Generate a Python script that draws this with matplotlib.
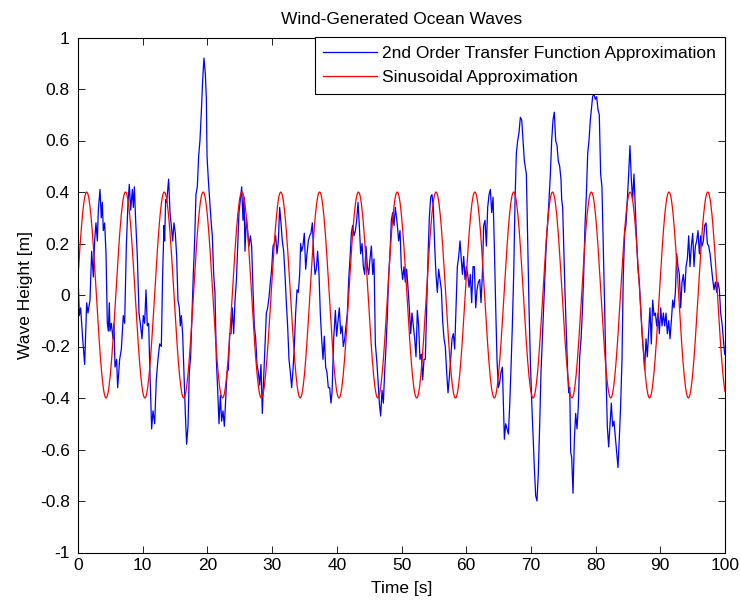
import numpy as np
import matplotlib
matplotlib.use("Agg")
import matplotlib.pyplot as plt

# ---- data ----
tf_time = [
    0.00, 0.20, 0.41, 0.72, 1.03, 1.34, 1.54, 1.85, 2.11, 2.37, 2.57, 2.78, 2.99, 3.14, 3.40, 3.60, 3.76, 3.91,
    4.12, 4.33, 4.53, 4.69, 4.84, 4.94, 5.15, 5.41, 5.56, 5.72, 5.97, 6.13, 6.44, 6.70, 7.00, 7.21, 7.47, 7.73,
    7.93, 8.14, 8.40, 8.55, 8.71, 8.91, 9.17, 9.43,
    9.68, 9.89, 10.09, 10.30, 10.51, 10.71, 10.92, 11.12, 11.38, 11.59, 11.85, 12.10, 12.36, 12.62, 12.88, 13.08,
    13.29, 13.39, 13.55, 13.70, 13.80, 14.01, 14.22, 14.42, 14.63, 14.83, 15.04, 15.25, 15.45, 15.66, 15.81,
    15.97, 16.17, 16.38, 16.59, 16.79, 17.00, 17.20, 17.41, 17.62, 17.82, 18.03, 18.23, 18.44, 18.65, 18.85,
    19.06, 19.26, 19.47, 19.68,
    19.84, 19.94, 20.14, 20.35, 20.56, 20.76, 20.97, 21.17, 21.38, 21.59, 21.79, 22.00, 22.20, 22.41, 22.62,
    22.82, 23.03, 23.24, 23.44, 23.65, 23.85, 24.06, 24.27, 24.47, 24.68, 24.88, 25.09, 25.30, 25.50, 25.66,
    25.81, 26.02, 26.22, 26.43, 26.64, 26.84, 27.05, 27.25, 27.46, 27.67, 27.87, 28.08, 28.28, 28.49, 28.70,
    28.90, 29.11,
    29.31, 29.52, 29.73, 29.93, 30.14, 30.34, 30.55, 30.76, 30.96, 31.17, 31.37, 31.58, 31.79, 31.99, 32.20,
    32.40, 32.61, 32.82, 33.02, 33.23, 33.43, 33.64, 33.85, 34.05, 34.26, 34.41, 34.57, 34.77, 34.98, 35.19,
    35.39, 35.60, 35.80, 36.01, 36.22, 36.42, 36.63, 36.83, 37.04, 37.25, 37.45, 37.66, 37.87, 38.07, 38.28,
    38.48, 38.69, 38.90, 39.10,
    39.26, 39.52, 39.78, 39.98, 40.19, 40.39, 40.60, 40.81, 41.01, 41.22, 41.42, 41.63, 41.84, 42.04, 42.25,
    42.45, 42.66, 42.87, 43.07, 43.28, 43.48, 43.69, 43.90, 44.10, 44.31, 44.51, 44.72, 44.93, 45.13, 45.34,
    45.55, 45.75, 45.96, 46.16, 46.37, 46.58, 46.78, 46.99, 47.19, 47.40, 47.61, 47.81, 48.02, 48.22, 48.43,
    48.64, 48.84, 49.05,
    49.36, 49.56, 49.77, 49.97, 50.18, 50.39, 50.59, 50.80, 51.00, 51.21, 51.42, 51.62, 51.83, 52.04, 52.24,
    52.45, 52.65, 52.86, 53.07, 53.27, 53.48, 53.68, 53.89, 54.10, 54.30, 54.51, 54.71, 54.92, 55.13, 55.33,
    55.54, 55.74, 55.95, 56.16, 56.36, 56.57, 56.77, 56.98, 57.19, 57.39, 57.60, 57.81, 58.01, 58.22, 58.42,
    58.63, 58.84, 59.04,
    59.41, 59.61, 59.82, 60.02, 60.23, 60.44, 60.64, 60.85, 61.05, 61.26, 61.47, 61.67, 61.88, 62.09, 62.29,
    62.50, 62.70, 62.91, 63.12, 63.32, 63.53, 63.73, 63.94, 64.15, 64.35, 64.56, 64.76, 64.97, 65.18, 65.38,
    65.59, 65.74, 65.90, 66.10, 66.31, 66.52, 66.72, 66.93, 67.13, 67.34, 67.55, 67.75, 67.96, 68.16, 68.37,
    68.58, 68.78, 68.99,
    69.30, 69.50, 69.71, 69.91, 70.12, 70.33, 70.53, 70.74, 70.94, 71.15, 71.36, 71.56, 71.77, 71.97, 72.18,
    72.39, 72.59, 72.80, 73.01, 73.21, 73.42, 73.62, 73.83, 74.04, 74.24, 74.45, 74.65, 74.76, 74.91, 75.07,
    75.27, 75.48, 75.68, 75.84, 76.00, 76.15, 76.30, 76.51, 76.72, 76.92, 77.13, 77.33, 77.54, 77.75, 77.95,
    78.16, 78.36, 78.57, 78.78, 78.98, 79.19,
    79.34, 79.54, 79.75, 79.95, 80.16, 80.37, 80.57, 80.78, 80.98, 81.19, 81.40, 81.60, 81.81, 82.02, 82.22,
    82.43, 82.63, 82.84, 83.05, 83.25, 83.46, 83.66, 83.87, 84.08, 84.28, 84.49, 84.69, 84.90, 85.11, 85.31,
    85.52, 85.72, 85.93, 86.14, 86.34, 86.55, 86.76, 86.96, 87.17, 87.37, 87.58, 87.79, 87.99, 88.20, 88.40,
    88.61, 88.82,
    89.03, 89.24, 89.44, 89.65, 89.85, 90.06, 90.27, 90.47, 90.68, 90.88, 91.09, 91.30, 91.50, 91.71, 91.92,
    92.12, 92.33, 92.53, 92.74, 92.95, 93.15, 93.36, 93.56, 93.77, 93.98, 94.18, 94.39, 94.59, 94.80, 95.01,
    95.21, 95.42, 95.62, 95.83, 96.04, 96.24, 96.45, 96.66, 96.86, 97.07, 97.27, 97.48, 97.69, 97.89, 98.10,
    98.30, 98.51, 98.71, 98.92, 99.13, 99.33, 99.54, 99.74, 99.95,
]
tf_height = [
    0.08, -0.08, -0.05, -0.17, -0.27, -0.03, -0.07, -0.02, 0.17, 0.07, 0.21, 0.28, 0.21, 0.33, 0.41, 0.30, 0.36, 0.25,
    0.28, 0.16, -0.11, -0.14, -0.03, -0.14, -0.11, -0.17, -0.11, -0.28, -0.25, -0.36, -0.25, -0.21, -0.08, -0.11, 0.19, 0.36,
    0.43, 0.33, 0.41, 0.34, 0.42, 0.29, 0.15, -0.07,
    -0.12, -0.17, -0.08, -0.11, 0.02, -0.12, -0.11, -0.30, -0.52, -0.45, -0.50, -0.33, -0.25, -0.19, -0.20, 0.08,
    0.27, 0.21, 0.37, 0.36, 0.39, 0.45, 0.32, 0.27, 0.21, 0.28, 0.24, 0.15, -0.02, -0.05, -0.12,
    -0.08, -0.15, -0.30, -0.46, -0.58, -0.51, -0.30, -0.24, -0.07, 0.08, 0.21, 0.39, 0.42, 0.54, 0.60,
    0.71, 0.83, 0.92, 0.86,
    0.76, 0.54, 0.45, 0.37, 0.29, 0.23, 0.08, 0.01, -0.25, -0.37, -0.50, -0.39, -0.49, -0.45, -0.51,
    -0.41, -0.30, -0.29, -0.15, -0.15, -0.05, -0.15, -0.02, 0.05, 0.19, 0.32, 0.37, 0.42, 0.29, 0.38,
    0.17, 0.30, 0.25, 0.19, 0.23, 0.19, 0.02, -0.12, -0.17, -0.27, -0.30, -0.35, -0.27, -0.46, -0.32,
    -0.20, -0.07,
    -0.05, -0.01, 0.05, 0.10, 0.19, 0.20, 0.23, 0.16, 0.21, 0.34, 0.28, 0.21, 0.17, 0.08, -0.03,
    -0.12, -0.25, -0.30, -0.36, -0.29, -0.20, -0.07, 0.02, 0.01, 0.08, 0.20, 0.17, 0.19, 0.24, 0.10,
    0.16, 0.21, 0.23, 0.24, 0.28, 0.16, 0.08, 0.10, 0.17, 0.08, -0.07, -0.17, -0.25, -0.16, -0.28,
    -0.30, -0.36, -0.36, -0.42,
    -0.38, -0.17, -0.06, -0.16, -0.10, -0.05, -0.15, -0.12, -0.20, -0.17, -0.12, -0.07, 0.06, 0.14, 0.24,
    0.27, 0.23, 0.25, 0.29, 0.36, 0.27, 0.16, 0.20, 0.11, 0.08, 0.19, 0.11, 0.08, 0.14, 0.19,
    0.08, 0.14, -0.19, -0.25, -0.33, -0.42, -0.47, -0.37, -0.42, -0.30, -0.20, -0.08, 0.08, 0.16, 0.29,
    0.32, 0.27, 0.34,
    0.27, 0.21, 0.25, 0.11, 0.06, 0.11, 0.05, 0.10, 0.03, -0.05, -0.15, -0.07, -0.12, -0.17, -0.24,
    -0.06, -0.12, -0.25, -0.23, -0.33, -0.25, -0.25, -0.05, 0.15, 0.30, 0.38, 0.39, 0.34, 0.19, 0.08,
    0.01, 0.10, 0.06, 0.02, -0.10, -0.17, -0.20, -0.30, -0.38, -0.32, -0.25, -0.17, -0.15, -0.21, -0.05,
    0.11, 0.15, 0.21,
    0.08, 0.15, 0.06, 0.11, 0.08, 0.03, 0.08, -0.03, 0.11, 0.11, -0.05, 0.02, 0.05, 0.06, -0.03,
    0.08, 0.27, 0.29, 0.19, 0.34, 0.39, 0.41, 0.32, 0.38, 0.19, -0.05, -0.25, -0.36, -0.34, -0.30,
    -0.28, -0.41, -0.56, -0.50, -0.52, -0.54, -0.43, -0.28, -0.12, 0.08, 0.37, 0.55, 0.60, 0.63, 0.69,
    0.68, 0.60, 0.52,
    0.47, 0.21, -0.05, -0.25, -0.41, -0.54, -0.67, -0.78, -0.80, -0.69, -0.50, -0.30, -0.17, -0.05, 0.08,
    0.21, 0.28, 0.37, 0.47, 0.60, 0.68, 0.71, 0.60, 0.58, 0.52, 0.50, 0.45, 0.37, 0.34, 0.19,
    0.01, -0.15, -0.30, -0.38, -0.36, -0.61, -0.63, -0.77, -0.56, -0.46, -0.52, -0.43, -0.24, -0.17, -0.07,
    0.08, 0.27, 0.39, 0.55, 0.60, 0.68,
    0.72, 0.77, 0.78, 0.76, 0.77, 0.72, 0.70, 0.47, 0.42, 0.19, -0.05, -0.30, -0.51, -0.59, -0.51,
    -0.42, -0.51, -0.49, -0.55, -0.61, -0.67, -0.56, -0.43, -0.25, 0.08, 0.24, 0.27, 0.37, 0.47, 0.58,
    0.45, 0.37, 0.47, 0.34, 0.21, 0.10, 0.05, -0.05, -0.15, -0.21, -0.29, -0.17, -0.24, -0.14, -0.05,
    -0.19, -0.02,
    -0.08, -0.07, -0.12, -0.07, -0.15, -0.05, -0.12, -0.07, -0.12, -0.07, -0.15, -0.10, -0.17, -0.10, -0.02,
    -0.05, 0.01, 0.16, 0.11, 0.08, -0.05, 0.05, 0.08, 0.01, 0.11, 0.14, 0.23, 0.11, 0.19, 0.24,
    0.11, 0.19, 0.21, 0.25, 0.16, 0.23, 0.19, 0.21, 0.27, 0.28, 0.20, 0.19, 0.16, 0.11, 0.06,
    0.02, 0.05, 0.01, 0.05, 0.02, -0.07, -0.11, -0.17, -0.23,
]

# sinusoidal approximation parameters
sine_amplitude = 0.4      # m
sine_period = 6.0         # s
sine_peak_time = 1.34     # s, time of first crest
sine_time = np.arange(0, 100.05, 0.1)

x_ticks = [0, 10, 20, 30, 40, 50, 60, 70, 80, 90, 100]
y_ticks = [-1, -0.8, -0.6, -0.4, -0.2, 0, 0.2, 0.4, 0.6, 0.8, 1]
y_tick_labels = ["-1", "-0.8", "-0.6", "-0.4", "-0.2", "0", "0.2", "0.4", "0.6", "0.8", "1"]

labels = ["2nd Order Transfer Function Approximation", "Sinusoidal Approximation"]

# ---- drawing ----
FS = 12.5
plt.rcParams["font.family"] = ["Liberation Sans", "DejaVu Sans"]
plt.rcParams["font.size"] = FS

fig = plt.figure(figsize=(7.4, 6.0), dpi=100)
ax = fig.add_axes([78 / 740, 1 - 552.5 / 600, (725 - 78) / 740, (552.5 - 37.5) / 600])

omega = 2 * np.pi / sine_period
sine_height = sine_amplitude * np.cos(omega * (sine_time - sine_peak_time))

ax.plot(tf_time, tf_height, color="#0000ff", lw=0.9, label=labels[0])
ax.plot(sine_time, sine_height, color="#ff0000", lw=0.9, label=labels[1])

ax.set_xlim(0, 100)
ax.set_ylim(-1, 1)
ax.set_xticks(x_ticks)
ax.set_xticklabels([str(v) for v in x_ticks])
ax.set_yticks(y_ticks)
ax.set_yticklabels(y_tick_labels)
ax.tick_params(direction="in", length=5, width=0.6, top=True, right=True, labelsize=FS)
ax.tick_params(axis="x", pad=4)
ax.tick_params(axis="y", pad=6)
for s in ax.spines.values():
    s.set_linewidth(0.8)
    s.set_color("black")

ax.set_title("Wind-Generated Ocean Waves", fontsize=FS, pad=10)
ax.set_xlabel("Time [s]", fontsize=FS, labelpad=6)
ax.set_ylabel("Wave Height [m]", fontsize=FS, labelpad=5)

leg = ax.legend(loc="upper right", borderaxespad=0, fancybox=False, framealpha=1,
                edgecolor="black", handlelength=3.1, handletextpad=0.3,
                labelspacing=0.5, borderpad=0.5, fontsize=FS)
leg.get_frame().set_linewidth(0.8)

fig.savefig("out.png", dpi=100)
